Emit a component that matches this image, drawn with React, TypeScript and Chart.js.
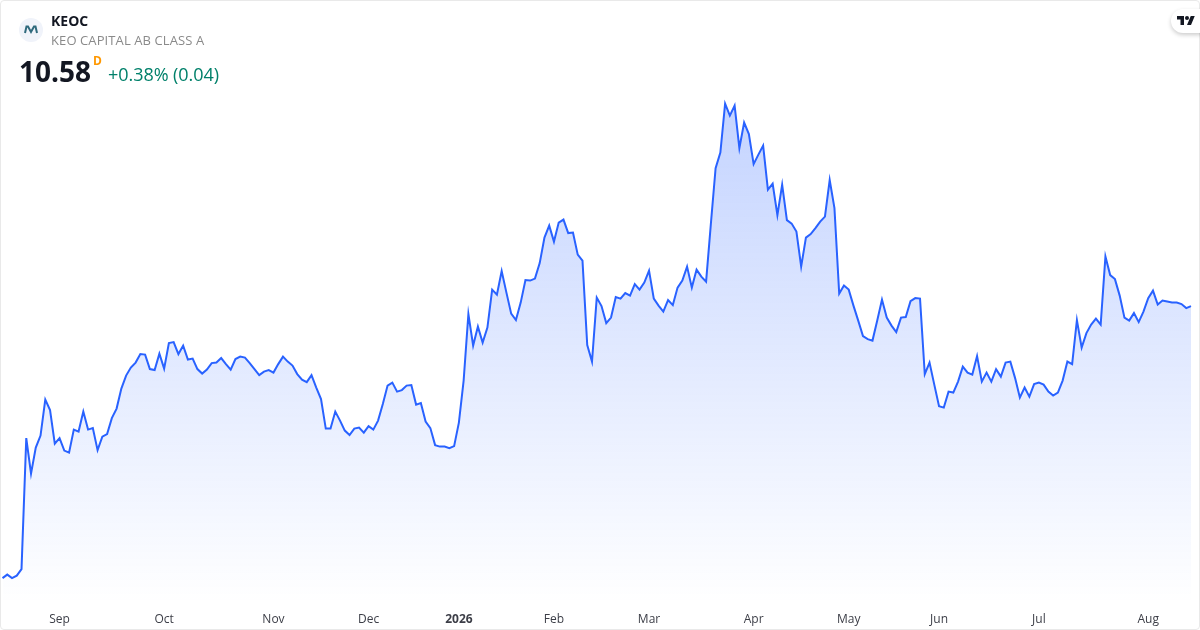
import React, { useEffect, useRef } from 'react';
import { Chart, registerables, ChartOptions } from 'chart.js';

Chart.register(...registerables);

const closes = [
  5.14, 5.21, 5.14, 5.19, 5.32, 7.94, 7.23, 7.75, 7.99, 8.71, 8.5, 7.83, 7.94, 7.69, 7.65, 8.11, 8.07, 8.47, 8.11, 8.14,
  7.7, 7.97, 8.02, 8.34, 8.53, 8.93, 9.19, 9.35, 9.45, 9.62, 9.61, 9.32, 9.3, 9.63, 9.33, 9.84, 9.86, 9.62, 9.79, 9.51,
  9.53, 9.32, 9.23, 9.31, 9.44, 9.45, 9.54, 9.42, 9.31, 9.52, 9.57, 9.55, 9.44, 9.32, 9.2, 9.27, 9.3, 9.25, 9.42, 9.57,
  9.47, 9.39, 9.22, 9.11, 9.06, 9.2, 8.95, 8.72, 8.13, 8.13, 8.47, 8.29, 8.09, 8.0, 8.13, 8.15, 8.05, 8.18, 8.11, 8.29,
  8.62, 8.99, 9.05, 8.87, 8.9, 8.99, 9.0, 8.61, 8.64, 8.27, 8.14, 7.8, 7.77, 7.77, 7.74, 7.78, 8.25, 9.09, 10.42, 9.79,
  10.17, 9.85, 10.15, 10.91, 10.81, 11.28, 10.85, 10.43, 10.3, 10.65, 11.1, 11.09, 11.13, 11.44, 11.95, 12.19, 11.87, 12.25, 12.31, 12.04,
  12.05, 11.61, 11.49, 9.8, 9.47, 10.75, 10.58, 10.24, 10.35, 10.76, 10.73, 10.84, 10.79, 11.02, 10.91, 11.05, 11.29, 10.73, 10.59, 10.47,
  10.7, 10.6, 10.95, 11.09, 11.37, 10.95, 11.31, 11.17, 11.07, 12.22, 13.34, 13.65, 14.63, 14.39, 14.59, 13.74, 14.25, 14.02, 13.42, 13.61,
  13.79, 12.91, 13.03, 12.4, 13.01, 12.3, 12.23, 12.07, 11.37, 11.95, 12.02, 12.14, 12.27, 12.37, 13.1, 12.54, 10.83, 10.99, 10.91, 10.59,
  10.29, 9.98, 9.92, 9.89, 10.29, 10.71, 10.35, 10.19, 10.06, 10.35, 10.36, 10.68, 10.74, 10.73, 9.22, 9.45, 9.01, 8.58, 8.55, 8.87,
  8.85, 9.07, 9.37, 9.25, 9.21, 9.58, 9.07, 9.25, 9.07, 9.32, 9.17, 9.45, 9.47, 9.14, 8.75, 8.95, 8.77, 9.02, 9.05, 9.01,
  8.87, 8.79, 8.85, 9.09, 9.47, 9.42, 10.3, 9.75, 10.04, 10.21, 10.33, 10.21, 11.57, 11.2, 11.12, 10.79, 10.35, 10.29, 10.44, 10.26,
  10.47, 10.74, 10.89, 10.61, 10.69, 10.67, 10.65, 10.65, 10.62, 10.54, 10.58,
];

// bar index where each month starts
const tickIndexes = [12, 34, 57, 77, 96, 116, 136, 158, 178, 197, 218, 241];
const tickLabels = ['Sep', 'Oct', 'Nov', 'Dec', '2026', 'Feb', 'Mar', 'Apr', 'May', 'Jun', 'Jul', 'Aug'];

const symbol = 'KEOC';
const companyName = 'KEO CAPITAL AB CLASS A';
const lastPrice = '10.58';
const interval = 'D';
const change = '+0.38% (0.04)';

const FONT = "'Open Sans', sans-serif";

const App = () => {
  const chartRef = useRef<HTMLCanvasElement>(null);

  useEffect(() => {
    const ctx = chartRef.current?.getContext('2d');
    if (!ctx) return;

    const gradient = ctx.createLinearGradient(0, 100, 0, 605);
    gradient.addColorStop(0, 'rgba(41, 98, 255, 0.28)');
    gradient.addColorStop(1, 'rgba(41, 98, 255, 0)');

    const options: ChartOptions<'line'> = {
      responsive: false,
      animation: false,
      layout: { padding: { left: 2.5, right: 9, top: 0, bottom: 0 } },
      scales: {
        x: {
          type: 'category',
          offset: false,
          grid: { display: false },
          border: { display: false },
          afterFit: (scale: any) => {
            scale.height = 30;
          },
          afterBuildTicks: (scale: any) => {
            scale.ticks = tickIndexes.map((value) => ({ value }));
          },
          ticks: {
            autoSkip: false,
            maxRotation: 0,
            padding: 4,
            color: '#3c3e47',
            callback: (value: any) => tickLabels[tickIndexes.indexOf(Number(value))],
            font: (c: any) => ({
              family: FONT,
              size: 12,
              weight: tickLabels[c.index] === '2026' ? 'bold' : 'normal',
            }),
          },
        },
        y: {
          display: false,
          min: 4.702,
          max: 16.702,
        },
      },
      plugins: {
        legend: { display: false },
        tooltip: { enabled: false },
      },
    };

    const myChart = new Chart(ctx, {
      type: 'line',
      data: {
        labels: closes.map((_, i) => String(i)),
        datasets: [
          {
            data: closes,
            borderColor: '#2962ff',
            borderWidth: 2,
            pointRadius: 0,
            tension: 0,
            fill: 'start',
            backgroundColor: gradient,
          },
        ],
      },
      options,
    });

    return () => {
      myChart.destroy();
    };
  }, []);

  return (
    <div style={{ position: 'absolute', left: 0, top: 0, width: 1200, height: 630, background: '#fff', overflow: 'hidden', fontFamily: FONT }}>
      <canvas ref={chartRef} width={1200} height={630} style={{ position: 'absolute', left: 0, top: 0 }}></canvas>
      <div style={{ position: 'absolute', left: 0, top: 0, width: 1200, height: 630, boxSizing: 'border-box', border: '1px solid #e9e9e9', borderRadius: 4 }}></div>

      <svg width={24} height={24} viewBox="0 0 24 24" style={{ position: 'absolute', left: 19, top: 18 }}>
        <circle cx={12} cy={12} r={12} fill="#f0f3fa" />
        <path d="M6 15 L7.5 8.5 H9 L12 14 L15 8.5 H16.5 L18 15" fill="none" stroke="#2f6a7d" strokeWidth={2} />
      </svg>

      <div style={{ position: 'absolute', left: 51, top: 11, fontSize: 14, lineHeight: '19px', fontWeight: 700, color: '#131722' }}>{symbol}</div>
      <div style={{ position: 'absolute', left: 51, top: 31, fontSize: 13, lineHeight: '18px', color: '#8a8a8a', letterSpacing: 0.1 }}>{companyName}</div>
      <div style={{ position: 'absolute', left: 19, top: 52, fontSize: 28, lineHeight: '38px', fontWeight: 700, color: '#131722' }}>{lastPrice}</div>
      <div style={{ position: 'absolute', left: 93, top: 53, fontSize: 12, lineHeight: '16px', fontWeight: 700, color: '#ff9800' }}>{interval}</div>
      <div style={{ position: 'absolute', left: 108, top: 62, fontSize: 18, lineHeight: '25px', color: '#00806a', letterSpacing: -0.05 }}>{change}</div>

      <div style={{ position: 'absolute', left: 1171, top: 9, width: 40, height: 24, borderRadius: 12, background: '#fff', boxShadow: '0 2px 4px rgba(0,0,0,0.2)' }}></div>
      <svg width={18} height={14} viewBox="0 0 36 28" style={{ position: 'absolute', left: 1177, top: 14 }}>
        <path d="M14 22H7V11H0V4h14v18zM28 22h-8l7.5-18h8L28 22z" fill="#131722" />
        <circle cx={20} cy={8} r={4} fill="#131722" />
      </svg>
    </div>
  );
};

export default App;
